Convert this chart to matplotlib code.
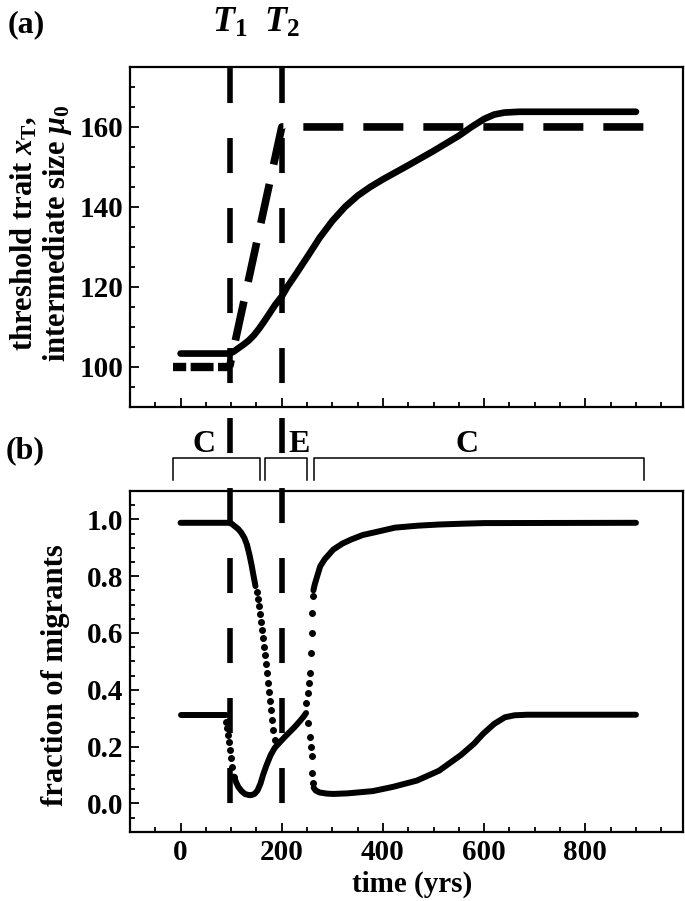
import matplotlib
matplotlib.use("Agg")
import matplotlib.pyplot as plt
import matplotlib.transforms as mtransforms
from matplotlib.ticker import MultipleLocator, FormatStrFormatter

plt.rcParams['font.family'] = ['Liberation Serif', 'DejaVu Serif']
plt.rcParams['font.weight'] = 'bold'
plt.rcParams['mathtext.fontset'] = 'custom'
plt.rcParams['mathtext.rm'] = 'Liberation Serif:bold'
plt.rcParams['mathtext.it'] = 'Liberation Serif:italic:bold'
plt.rcParams['mathtext.bf'] = 'Liberation Serif:bold'
plt.rcParams['lines.scale_dashes'] = False

# times of the two switches
T1, T2 = 97, 200

# panel (a): threshold trait (solid) and intermediate size (dashed)
trait_x = [0, 97, 105, 115, 125, 135, 145, 155, 165, 175, 187, 200, 212, 225, 250,
           275, 300, 325, 350, 375, 400, 450, 500, 550, 575, 600, 620, 640, 670, 900]
trait_y = [103.3, 103.3, 103.8, 104.7, 105.6, 106.6, 107.9, 109.5, 111.3, 113.2,
           115.5, 117.6, 120.2, 122.6, 127.4, 132.3, 136.5, 140.0, 142.8, 145.0,
           146.9, 150.4, 154.0, 157.8, 160.0, 162.0, 163.1, 163.6, 163.8, 163.8]
size_x = [-15, T1, T2, 930]
size_y = [100, 100, 160, 160]

# panel (b): fraction of migrants, high branch
hi_a_x = [0, 95, 100, 107, 114, 120, 126, 131, 136, 140, 144, 148]
hi_a_y = [0.988, 0.988, 0.986, 0.976, 0.966, 0.953, 0.935, 0.912, 0.876, 0.842,
          0.803, 0.765]
hi_fall_x = [150.5, 153, 155.5, 157.5, 159.5, 161.5, 163.5, 165.5, 167.5, 169.5,
             171.5, 173.5, 175.5, 177.5, 179.5, 181.5, 183.5, 186]
hi_fall_y = [0.745, 0.72, 0.695, 0.668, 0.64, 0.612, 0.582, 0.552, 0.522, 0.49,
             0.458, 0.425, 0.392, 0.36, 0.327, 0.293, 0.258, 0.222]
hi_rise_x = [247.3, 251.8, 253.8, 255.2, 257.2, 259.8, 260.5, 261.8]
hi_rise_y = [0.353, 0.388, 0.424, 0.459, 0.529, 0.600, 0.671, 0.729]
hi_b_x = [262.5, 265, 270, 276, 285, 302, 320, 337, 360, 380, 424, 470, 511, 560,
          600, 900]
hi_b_y = [0.75, 0.77, 0.8, 0.835, 0.86, 0.894, 0.915, 0.929, 0.945, 0.953, 0.971,
          0.978, 0.982, 0.985, 0.987, 0.988]

# low branch
lo_a_x = [0, 90]
lo_a_y = [0.312, 0.312]
lo_drop_x = [90.3, 92.3, 93.6, 95.6, 97, 99, 101.6, 105.6]
lo_drop_y = [0.288, 0.265, 0.241, 0.217, 0.188, 0.159, 0.129, 0.094]
lo_b_x = [105.6, 110, 114, 120, 127, 135, 140, 146, 152, 158, 163, 170, 178, 186,
          195, 205, 215, 225, 235, 243, 248]
lo_b_y = [0.094, 0.073, 0.058, 0.044, 0.033, 0.029, 0.029, 0.033, 0.045, 0.07,
          0.1, 0.135, 0.17, 0.195, 0.213, 0.232, 0.25, 0.268, 0.288, 0.305, 0.318]
lo_fall_x = [251.8, 255.2, 258.5, 259.8, 260.5, 261.8]
lo_fall_y = [0.282, 0.235, 0.2, 0.165, 0.106, 0.071]
lo_c_x = [263, 267, 275, 290, 302, 330, 380, 420, 467, 511, 554, 580, 598, 620,
          641, 660, 685, 900]
lo_c_y = [0.055, 0.045, 0.038, 0.034, 0.033, 0.035, 0.043, 0.058, 0.08, 0.115,
          0.17, 0.21, 0.245, 0.28, 0.303, 0.31, 0.312, 0.312]

# regime brackets above panel (b)
bracket_start = [-15, 167, 263]
bracket_end = [156, 250, 915]
bracket_text_x = [47, 235, 567]
bracket_text = ["C", "E", "C"]

W, H = 685, 901
def fx(px):
    return px / W
def fy(py):
    return 1 - py / H

fig = plt.figure(figsize=(W / 100, H / 100), dpi=100)
ax_a = fig.add_axes([fx(130), fy(406.7), 553 / W, 339.7 / H])
ax_b = fig.add_axes([fx(130), fy(831.7), 553 / W, 340.7 / H])

# panel (a)
ax_a.plot(trait_x, trait_y, color='k', lw=4.8, solid_capstyle='round',
          solid_joinstyle='round', zorder=3)
ax_a.plot(size_x[:2], size_y[:2], color='k', lw=6, ls=(7, (16.5, 3.2)),
          dash_capstyle='butt', zorder=3)
ax_a.plot(size_x[1:], size_y[1:], color='k', lw=5.5, ls=(23.8, (28.8, 14.4)),
          dash_capstyle='butt', zorder=3)
ax_a.set_ylim(90, 175)
ax_a.yaxis.set_major_locator(MultipleLocator(20))
ax_a.yaxis.set_minor_locator(MultipleLocator(5))

# panel (b)
line_kw = dict(color='k', lw=4.3, solid_capstyle='round',
               solid_joinstyle='round', zorder=3)
dot_kw = dict(color='k', ls='none', marker='o', ms=4.0, zorder=3)
ax_b.plot(hi_a_x, hi_a_y, **line_kw)
ax_b.plot(hi_fall_x, hi_fall_y, **dot_kw)
ax_b.plot(hi_rise_x, hi_rise_y, **dot_kw)
ax_b.plot(hi_b_x, hi_b_y, **line_kw)
ax_b.plot(lo_a_x, lo_a_y, **line_kw)
ax_b.plot(lo_drop_x, lo_drop_y, **dot_kw)
ax_b.plot(lo_b_x, lo_b_y, **line_kw)
ax_b.plot(lo_fall_x, lo_fall_y, **dot_kw)
ax_b.plot(lo_c_x, lo_c_y, **line_kw)
ax_b.set_ylim(-0.1, 1.1)
ax_b.yaxis.set_major_locator(MultipleLocator(0.2))
ax_b.yaxis.set_minor_locator(MultipleLocator(0.05))
ax_b.yaxis.set_major_formatter(FormatStrFormatter('%.1f'))

for ax in (ax_a, ax_b):
    ax.set_xlim(-100, 993)
    ax.xaxis.set_major_locator(MultipleLocator(200))
    ax.xaxis.set_minor_locator(MultipleLocator(50))
    ax.tick_params(which='both', direction='in', top=False, right=False,
                   width=1.3, labelsize=21)
    ax.tick_params(which='major', length=6.5, pad=5)
    ax.tick_params(which='minor', length=3.5)
    for s in ax.spines.values():
        s.set_linewidth(1.6)
ax_a.tick_params(labelbottom=False)
ax_b.tick_params(axis='x', pad=5)

# switch times across both panels
trans = mtransforms.blended_transform_factory(ax_b.transData, fig.transFigure)
for T in (T1, T2):
    ax_b.plot([T, T], [fy(45), fy(831.7)], transform=trans, clip_on=False,
              color='k', lw=4, ls=(33.8, (25.2, 25.2)), dash_capstyle='butt',
              zorder=5)
ax_b.text(T1, fy(32), r"$T_1$", transform=trans, ha='center', va='baseline',
          fontsize=26)
ax_b.text(T2, fy(32), r"$T_2$", transform=trans, ha='center', va='baseline',
          fontsize=26)

# brackets
for s, e in zip(bracket_start, bracket_end):
    ax_b.plot([s, s, e, e], [fy(480), fy(458.3), fy(458.3), fy(480)],
              transform=trans, clip_on=False, color='k', lw=1.1)
for x, t in zip(bracket_text_x, bracket_text):
    ax_b.text(x, fy(452), t, transform=trans, ha='center', va='baseline',
              fontsize=23)

fig.text(fx(26), fy(25), "(a)", ha='center', va='center', fontsize=23)
fig.text(fx(25), fy(451), "(b)", ha='center', va='center', fontsize=23)
fig.text(fx(41.5), fy(233), "threshold trait $x_{\\rm T}$,\nintermediate size $\\mu_0$",
         rotation=90, ha='center', va='center', fontsize=22, linespacing=1.05)
fig.text(fx(55), fy(675), "fraction of migrants", rotation=90, ha='center',
         va='center', fontsize=22)
fig.text(fx(412), fy(884), "time (yrs)", ha='center', va='center', fontsize=21)

fig.savefig("out.png", dpi=100)
